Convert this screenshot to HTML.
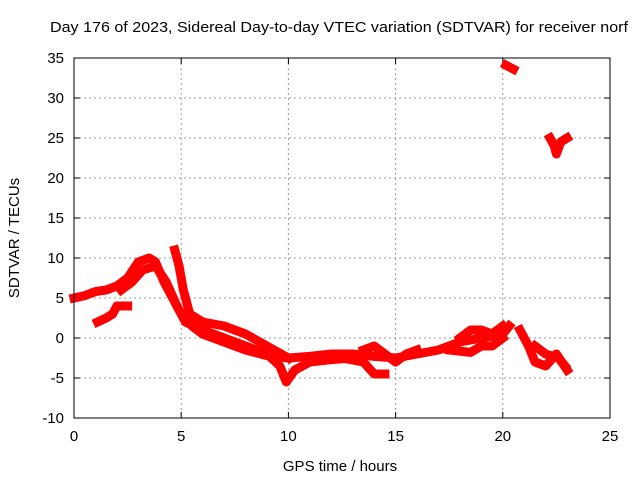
<!DOCTYPE html>
<html><head><meta charset="utf-8"><style>
body{margin:0;background:#fff}
text{font-family:"Liberation Sans",sans-serif;font-size:14px;fill:#000}
</style></head><body>
<svg id="chart" width="640" height="480">
<rect width="640" height="480" fill="#fff"/>
<text x="50" y="32" textLength="578" lengthAdjust="spacingAndGlyphs" style="font-size:15px">Day 176 of 2023, Sidereal Day-to-day VTEC variation (SDTVAR) for receiver norf</text>
<g id="grid"></g>
<g id="series"></g>
<rect x="74" y="58" width="536" height="360" fill="none" stroke="#000"/>
<text x="340" y="471" text-anchor="middle" style="font-size:15px">GPS time / hours</text>
<text transform="translate(19,238) rotate(-90)" text-anchor="middle" style="font-size:15px">SDTVAR / TECUs</text>
</svg>
<script>
const xTicks=[0,5,10,15,20,25];
const yTicks=[-10,-5,0,5,10,15,20,25,30,35];
const trackMain=[[0,5],[0.5,5.3],[1,5.8],[1.5,6],[2,6.5],[2.5,7.5],[3,9.5],[3.5,10],[3.8,9.5],[4.2,7],[4.6,5],[5,3],[5.5,1.5],[6,0.5],[7,-0.5],[8,-1.5],[9,-2.2],[10,-2.5],[11,-2.3],[12,-2],[13,-2],[14,-2.3],[15,-2.5],[16,-2],[17,-1.5],[18,-0.5],[19,0],[20,0.5],[20.3,1.5]];
const trackB=[[2.2,6],[2.7,7],[3.2,8.5],[3.8,9],[4.3,7],[4.8,4],[5.2,2],[6,1],[7,0],[8,-1],[9,-2],[9.6,-3.5],[9.9,-5.5],[10.3,-4],[11,-3],[12,-2.7],[13,-2.5]];
const trackC=[[4.7,11],[4.9,9],[5.1,6],[5.4,3],[6,2],[7,1.5],[8,0.5],[9,-1],[10,-2.5]];
const trackD=[[1.1,2],[1.5,2.5],[1.8,3],[2,4],[2.5,4]];
const trackG=[[12.5,-2.5],[13.5,-3],[14,-4.5],[14.5,-4.5]];
const trackJ=[[13.5,-1.5],[14,-1],[14.5,-2],[15,-3],[15.5,-2],[16,-1.5]];
const trackH=[[17.5,-1.5],[18.5,-1.8],[19,-1],[19.5,-1],[20,0]];
const trackK=[[18,0],[18.5,1],[19,1],[19.5,0.5],[20,1.5]];
const trackF=[[20.8,1],[21.2,-1],[21.5,-3],[22,-3.5],[22.5,-2],[23,-4]];
const trackI=[[21.5,-1],[22,-2],[22.6,-2.5],[22.9,-3.5]];
const trackE1=[[20.15,34.1],[20.5,33.6]];
const trackE2=[[22.2,25],[22.4,24],[22.5,23],[22.7,24.5],[23,25]];
const tracks=[trackMain,trackB,trackC,trackD,trackG,trackJ,trackH,trackK,trackF,trackI,trackE1,trackE2];
const NS="http://www.w3.org/2000/svg";
const X=v=>74+v*536/25, Y=v=>338-v*8;
const g=document.getElementById('grid'), s=document.getElementById('series');
function mk(t,a,p){const e=document.createElementNS(NS,t);for(const k in a)e.setAttribute(k,a[k]);p.appendChild(e);return e;}
xTicks.forEach(v=>{
 if(v>0&&v<25){const l=mk('line',{x1:X(v),x2:X(v),y1:58,y2:418,stroke:'#999','stroke-dasharray':'2,3'},g);
 
 }
 mk('line',{x1:X(v),x2:X(v),y1:418,y2:412,stroke:'#000'},g);
 mk('line',{x1:X(v),x2:X(v),y1:58,y2:64,stroke:'#000'},g);
 const t=mk('text',{x:X(v),y:441,'text-anchor':'middle','style':'font-size:15px'},g);t.textContent=v;
 
 
});
yTicks.forEach(v=>{
 if(v>-10&&v<35){const l=mk('line',{x1:74,x2:610,y1:Y(v),y2:Y(v),stroke:'#999','stroke-dasharray':'2,3'},g);
 
 }
 mk('line',{x1:74,x2:80,y1:Y(v),y2:Y(v),stroke:'#000'},g);
 mk('line',{x1:604,x2:610,y1:Y(v),y2:Y(v),stroke:'#000'},g);
 const t=mk('text',{x:64,y:Y(v)+5,'text-anchor':'end','style':'font-size:15px'},g);t.textContent=v;
 
 
});
tracks.forEach(tr=>{
 const p=mk('polyline',{points:tr.map(d=>X(d[0])+','+Y(d[1])).join(' '),fill:'none',stroke:'#f00','stroke-width':9,'stroke-linejoin':'round','stroke-linecap':'square'},s);
 
 
});
</script>
</body></html>
